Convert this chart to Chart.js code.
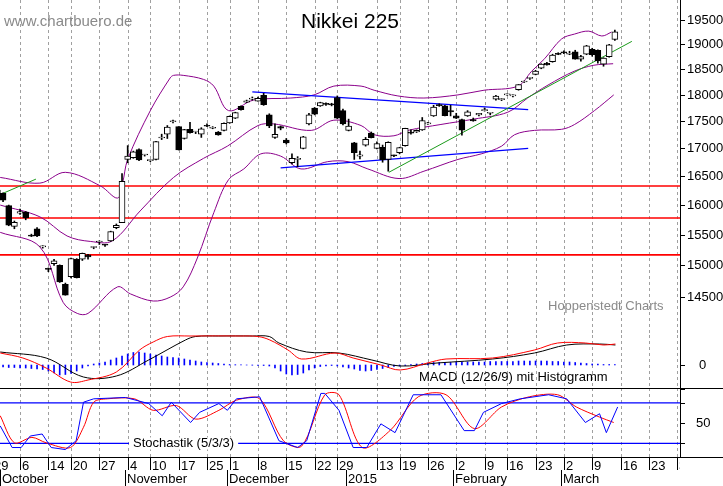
<!DOCTYPE html>
<html><head><meta charset="utf-8">
<script src="https://cdn.jsdelivr.net/npm/chart.js@4"></script>
<style>
body{margin:0;background:#fff;width:723px;height:486px;overflow:hidden;position:relative;font-family:"Liberation Sans",Arial,sans-serif}
.p{position:absolute;left:0;width:723px}
</style></head><body>
<div class="p" style="top:0;height:335px"><canvas id="c1" width="723" height="335"></canvas></div>
<div class="p" style="top:335px;height:52px"><canvas id="c2" width="723" height="52"></canvas></div>
<div class="p" style="top:387px;height:99px"><canvas id="c3" width="723" height="99"></canvas></div>
<script>
// ---- data (x = trading-day index, 0 = 29 Sep 2014) ----
const opens =[16250,16260,16200,15990,15640,15860,15880,15490,15600,15300,14940,15030,15000,14700,14820,15100,15100,15170,15290,15380,15330,15400,15620,15700,16800,16830,16980,16880,16780,16800,17190,17260,17490,17400,17180,17350,17300,17260,17410,17370,17300,17330,17470,17560,17780,17860,17920,17880,17990,17620,17200,17400,17150,16740,16800,17000,17450,17750,17790,17840,17830,17950,17700,17330,17100,16860,17060,17280,17000,17020,16800,16870,16920,17050,17290,17300,17340,17450,17600,17800,17790,17700,17600,17530,17600,17530,17620,17700,17650,17920,17910,18000,17980,18100,18250,18320,18400,18520,18620,18650,18800,18830,18800,18850,18700,18800,18900,18880,18600,18750,19100];
const highs =[16330,16290,16210,16000,15730,15930,15890,15510,15620,15320,14960,15100,15010,14720,15120,15110,15200,15180,15300,15400,15340,15560,15680,16550,17050,16950,16990,16890,16790,17130,17260,17420,17520,17400,17350,17480,17310,17380,17450,17400,17310,17470,17600,17670,17790,17900,17960,17960,18030,17640,17450,17410,17180,16900,16850,17220,17650,17760,17860,17850,17840,17980,17730,17540,17110,16950,17200,17300,17120,17060,17120,16880,17020,17370,17340,17340,17570,17480,17800,17830,17800,17800,17650,17540,17700,17560,17650,17750,17660,17990,17930,18020,18000,18200,18270,18340,18480,18610,18640,18800,18830,18870,18860,18880,18780,18980,18920,18890,18730,19000,19290];
const lows  =[16200,16150,16060,15650,15600,15840,15750,15470,15470,15280,14900,15000,14730,14530,14800,14800,15080,15100,15270,15340,15310,15390,15600,15700,16740,16820,16780,16860,16760,16790,17160,17180,17470,16970,17170,17280,17270,17200,17400,17360,17240,17320,17460,17550,17710,17850,17900,17880,17800,17380,17180,17340,17080,16720,16670,16990,17430,17620,17780,17800,17790,17550,17430,17320,16800,16810,17040,17190,16990,16750,16590,16850,16900,17040,17260,17290,17330,17440,17590,17780,17600,17600,17550,17240,17590,17500,17600,17690,17620,17900,17890,17990,17960,18090,18240,18300,18390,18510,18580,18640,18790,18810,18790,18700,18660,18790,18760,18620,18560,18740,19080];
const closes=[16310,16174,16082,15661,15708,15890,15783,15478,15479,15300,14936,15073,14738,14532,15111,14804,15195,15138,15291,15388,15329,15553,15658,16413,16862,16937,16792,16880,16780,17124,17197,17392,17490,16973,17344,17288,17300,17357,17407,17383,17248,17459,17590,17663,17720,17887,17920,17935,17813,17412,17257,17371,17099,16820,16819,17210,17621,17635,17854,17818,17808,17560,17450,17408,16920,16885,17167,17197,17087,16795,17108,16864,17014,17366,17280,17329,17511,17468,17768,17795,17606,17674,17558,17335,17678,17504,17648,17711,17652,17979,17913,18004,17987,18199,18264,18332,18466,18603,18585,18785,18797,18826,18815,18703,18751,18971,18790,18665,18723,18991,19254];
const bandIdx   =[1.5,8.5,13,19.2,22.2,23.1,24,28,31.5,32.1,33.8,37.4,39.2,41.8,46.2,52.8,56.9,60.4,65.2,67.5,71.7,76.3,82.3,86.9,92.9,95.3,97.6,100.6,102.9,105.4,107.7,109.4];
const bandUpper =[16480,16380,16570,16330,16120,16380,16800,17700,18330,18380,18380,18300,18170,17700,17900,17940,18000,18170,18170,18090,17980,17940,18000,18090,18170,18460,18710,19110,19210,19270,19170,19250];
const midIdx    =[1.5,8.5,13.3,17.4,21.3,26.2,32.1,37.4,41.6,47,49.8,56.4,60.4,65.2,67.5,71,73.5,79.3,85.1,91.1,94.6,98.2,102.8,106.3,109.7];
const bandMid   =[16000,15800,15480,15390,15400,15900,16480,16820,17040,17420,17450,17330,17520,17420,17250,17230,17330,17440,17540,17670,17940,18190,18460,18580,18610];
const lowIdx    =[1.5,8.5,12.6,15.1,17,22.2,24.5,28.5,31.5,33.8,36.3,39.2,41.8,44.5,47.5,51,54.6,59.3,62.9,66.4,71.9,76.3,82.3,86.4,90,92.3,95.8,100.6,102.9,106.4,109.8];
const bandLower =[15540,15300,14420,14250,14250,14660,14550,14440,14500,14660,15120,15870,16440,16630,16900,16860,16630,16760,16760,16630,16460,16590,16800,16900,17040,17250,17330,17350,17440,17700,18000];
const supportLevels=[16330,15780,15170];
const trendGreen=[[1.46,16180,7.8,16450],[70.1,16570,113,19060]];
const trendBlue=[[46,18060,94.7,17720],[51,16650,94.7,17000]];
const macdIdx=[1.5,9.6,16.2,22,27.7,34.2,36,40,46,49,50.7,55.6,61.3,67.1,72.1,78.6,88.4,95.8,101.5,107.3,110.1];
const macdLine=[130,70,-120,-110,50,250,285,290,290,285,220,130,120,50,-10,20,60,120,200,210,200];
const sigIdx=[1.5,5.5,9.6,13.9,17,22,26.1,28.5,31,35,44,47,49.1,52.3,54.7,60.6,63.8,68.7,72.1,76.9,80.2,88.4,95.8,99.9,104.8,108,110.1];
const sigLine=[120,70,-30,-170,-150,-70,150,230,285,290,290,285,250,150,60,120,70,0,-50,20,60,70,150,220,220,200,210];
const macdHist=[-10,-15,-20,-25,-25,-30,-30,-35,-40,-45,-60,-80,-100,-95,-85,-60,-30,-10,10,20,30,50,70,90,110,125,130,120,110,100,90,80,75,70,60,50,40,30,25,20,15,10,5,3,2,0,-2,-3,-5,-10,-30,-60,-90,-100,-95,-80,-50,-30,-15,-10,-5,-10,-20,-30,-40,-55,-60,-55,-45,-35,-25,-15,-10,-5,5,10,15,20,25,25,25,25,30,30,30,30,30,30,35,35,35,35,35,40,40,40,40,40,40,35,35,30,30,25,20,15,10,8,5,5,5];
const kIdx=[1.5,3.6,5.2,6.8,8.9,10.5,13,14.9,16.2,18,23.6,27.7,30.1,31.7,35.1,36.7,40.1,41.6,43.2,47.3,50.7,54,55.6,58.1,58.8,61.3,63.8,66.2,68.7,71.2,74.4,79.3,83.4,85.2,86.8,90,93.3,98.3,101.5,104.8,107.3,108.5,110.5];
const stochK=[46,14,14,31,34,14,11,24,81,86,88,79,61,81,51,66,79,69,86,89,24,14,24,94,94,69,14,14,49,36,92,92,39,39,66,79,86,92,86,51,64,36,74];
const dIdx=[1.5,4,7.1,9.6,13.9,16.2,18,20.4,25.2,28.5,32.6,36,40.1,43.2,47.3,51.5,54.7,58.8,61.3,65.4,70.3,75.3,80.2,85.2,90,94.9,99.9,103.2,107.3,109.8];
const stochD=[61,21,29,21,14,44,81,86,86,69,76,56,69,84,86,24,16,92,92,14,39,89,92,42,74,89,92,74,59,51];
const stochLevels=[80,20];
const priceTicks=[14500,15000,15500,16000,16500,17000,17500,18000,18500,19000,19500];
const macdTicks=[0];
const stochTicks=[0,20,50,80,100];
const weekIdx=[0,5,10,14,19,24,28,33,38,42,47,52,57,61,68,72,77,82,87,91,96,101,106,111,116,121];
const weekLabels=["29","6","14","20","27","4","10","17","25","1","8","15","22","29","13","19","26","2","9","16","23","2","9","16","23","30"];
const monthIdx=[2,24,42,63,82,101];
const monthLabels=["October","November","December","2015","February","March"];

const FONT='"Liberation Sans", Arial, sans-serif';
Chart.defaults.font.family=FONT;
const X_MIN=1.46, X_MAX=121.5;
const xScale=()=>({type:'linear',display:false,offset:false,min:X_MIN,max:X_MAX});
function pts(xs,ys){return xs.map((x,i)=>({x:x,y:ys[i]}));}
const lineDS=(data,color,w)=>({type:'line',data:data,borderColor:color,borderWidth:w||1,pointRadius:0,tension:0.35,fill:false});
function frame(ticks,labelFn){return {id:'frame',
 beforeDatasetsDraw(c){const g=c.ctx,a=c.chartArea,xs=c.scales.x;g.save();g.strokeStyle='#a0a0a0';g.setLineDash([3,3]);g.lineWidth=1;
  weekIdx.forEach(d=>{const px=Math.round(xs.getPixelForValue(d))+0.5;if(px>a.left&&px<a.right){g.beginPath();g.moveTo(px,a.top);g.lineTo(px,a.bottom);g.stroke();}});
  g.restore();},
 afterDraw(c){const g=c.ctx,a=c.chartArea,ys=c.scales.y;g.save();g.fillStyle='#000';
  g.fillRect(Math.round(a.right),0,1,c.height - (c.options.layout.padding.bottom||0));
  g.font='13px '+FONT;g.textBaseline='middle';g.textAlign='left';
  ticks.forEach(v=>{const py=Math.round(ys.getPixelForValue(v));g.fillRect(Math.round(a.right),py,5,1);const s=labelFn(v);if(s)g.fillText(s,Math.round(a.right)+(s.length>2?7:s.length>1?16:19),py);});
  g.restore();}};}
const base={responsive:false,animation:false,devicePixelRatio:1,
  plugins:{legend:{display:false},tooltip:{enabled:false}}};

// ---- price chart ----
const body=closes.map((c,i)=>({x:i,y:[opens[i],c]}));
const wick=closes.map((c,i)=>({x:i,y:[lows[i],highs[i]]}));
const bodyCol=closes.map((c,i)=>c>=opens[i]?'#fff':'#000');
const ds1=[
 {type:'bar',data:body,backgroundColor:bodyCol,borderColor:'#000',borderWidth:1,borderSkipped:false,barThickness:6,grouped:false,minBarLength:1,order:0},
 {type:'bar',data:wick,backgroundColor:'#000',borderWidth:0,barThickness:1,grouped:false,order:1},
 Object.assign(lineDS(pts(bandIdx,bandUpper),'#8b008b'),{order:3}),
 Object.assign(lineDS(pts(midIdx,bandMid),'#8b008b'),{order:3}),
 Object.assign(lineDS(pts(lowIdx,bandLower),'#8b008b'),{order:3})
];
supportLevels.forEach(v=>ds1.push(Object.assign(lineDS([{x:X_MIN-1,y:v},{x:X_MAX+1,y:v}],'#ff0000',1.6),{tension:0,order:4})));
trendGreen.forEach(t=>ds1.push(Object.assign(lineDS([{x:t[0],y:t[1]},{x:t[2],y:t[3]}],'#1a9a1a',1),{tension:0,order:2})));
trendBlue.forEach(t=>ds1.push(Object.assign(lineDS([{x:t[0],y:t[1]},{x:t[2],y:t[3]}],'#0000ff',1.3),{tension:0,order:2})));
const textPlugin={id:'txt',afterDraw(c){const g=c.ctx;g.save();
  g.fillStyle='#000';g.font='21px '+FONT;g.textAlign='center';g.textBaseline='middle';g.fillText('Nikkei 225',350,22);
  g.fillStyle='#8a8a8a';g.font='15px '+FONT;g.textAlign='left';g.fillText('www.chartbuero.de',4,22);
  g.font='13px '+FONT;g.fillText('Hoppenstedt Charts',548,306);g.restore();}};
new Chart(document.getElementById('c1'),{data:{datasets:ds1},
 options:Object.assign({},base,{layout:{padding:{top:0,bottom:0,left:0,right:43}},scales:{x:xScale(),
  y:{type:'logarithmic',display:false,min:13925,max:19922}}}),
 plugins:[frame(priceTicks,v=>String(v)),textPlugin]});

// ---- MACD ----
const ds2=[
 {type:'bar',data:macdHist.map((v,i)=>({x:i,y:v})),backgroundColor:'#0000ff',barThickness:1,grouped:false,order:3},
 Object.assign(lineDS(pts(macdIdx,macdLine),'#000'),{order:1}),
 Object.assign(lineDS(pts(sigIdx,sigLine),'#ff0000'),{order:0})
];
const macdText={id:'mt',afterDraw(c){const g=c.ctx;g.save();g.fillStyle='#000';g.font='13px '+FONT;g.textBaseline='middle';
  g.fillText('MACD (12/26/9) mit Histogramm',419,42);g.restore();}};
new Chart(document.getElementById('c2'),{data:{datasets:ds2},
 options:Object.assign({},base,{layout:{padding:{top:0,bottom:0,left:0,right:43}},scales:{x:xScale(),
  y:{display:false,min:-220,max:300}}}),
 plugins:[frame(macdTicks,v=>String(v)),macdText]});

// ---- Stochastik + date axis ----
const ds3=[
 Object.assign(lineDS(pts(kIdx,stochK),'#0000ff'),{tension:0,order:0}),
 Object.assign(lineDS(pts(dIdx,stochD),'#ff0000'),{tension:0.3,order:1})
];
stochLevels.forEach(v=>ds3.push(Object.assign(lineDS([{x:X_MIN-1,y:v},{x:X_MAX+1,y:v}],'#0000ff',1.3),{tension:0,order:2})));
const axisPlugin={id:'ax',afterDraw(c){const g=c.ctx,a=c.chartArea,xs=c.scales.x;g.save();
  g.fillStyle='#000';g.fillRect(0,a.top,723,1);g.fillRect(0,Math.round(a.bottom),723,1);
  g.font='13px '+FONT;g.textBaseline='middle';const t='Stochastik (5/3/3)';const w=g.measureText(t).width;
  const ly=c.scales.y.getPixelForValue(20);g.fillStyle='#fff';g.fillRect(129,ly-6,w+8,12);g.fillStyle='#000';g.fillText(t,133,ly);
  g.beginPath();g.rect(0,a.bottom,a.right,99);g.clip();
  g.font='13px '+FONT;g.textBaseline='top';g.fillStyle='#000';
  weekIdx.forEach((d,i)=>{const px=Math.round(xs.getPixelForValue(d));g.fillRect(px,a.bottom,1,13);g.fillText(weekLabels[i],px+2,a.bottom+3);});
  monthIdx.forEach((d,i)=>{const px=Math.round(xs.getPixelForValue(d-0.5));g.fillRect(px,a.bottom+13,1,16);g.fillText(monthLabels[i],px+2,a.bottom+16);});
  g.restore();}};
new Chart(document.getElementById('c3'),{data:{datasets:ds3},
 options:Object.assign({},base,{layout:{padding:{bottom:29,top:1,left:0,right:43}},scales:{x:xScale(),
  y:{display:false,min:0,max:102}}}),
 plugins:[frame(stochTicks,v=>v===50?'50':''),axisPlugin]});
</script></body></html>
